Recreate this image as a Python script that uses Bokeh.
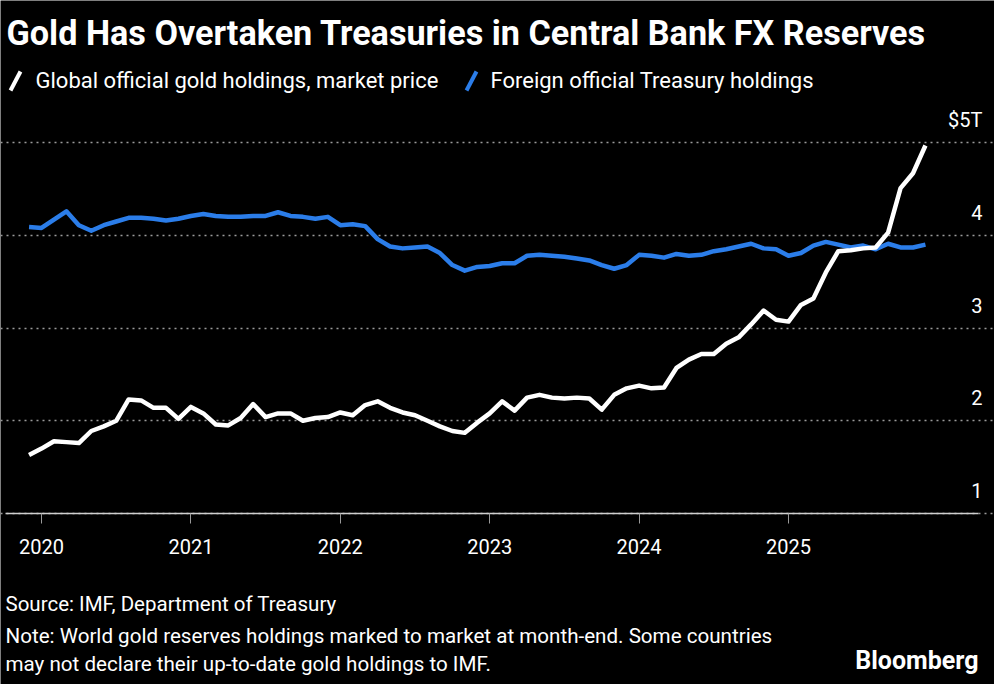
import pandas as pd
from bokeh.plotting import figure
from bokeh.models import (ColumnDataSource, Label, Arrow, FixedTicker, Range1d,
                          NumeralTickFormatter, LinearAxis)
from bokeh.core.properties import value
from bokeh.embed import file_html
from bokeh.resources import INLINE

# ---------------- data ----------------
months = pd.date_range("2019-12-01", "2025-12-01", freq="MS")

gold = [1.63, 1.70, 1.78, 1.77, 1.76, 1.89, 1.94, 2.00, 2.23, 2.22, 2.14, 2.14,
        2.02, 2.15, 2.08, 1.96, 1.95, 2.03, 2.18, 2.04, 2.08, 2.08, 2.00, 2.03,
        2.04, 2.09, 2.06, 2.17, 2.21, 2.14, 2.09, 2.06, 2.00, 1.94, 1.89, 1.87,
        1.98, 2.08, 2.21, 2.11, 2.25, 2.28, 2.25, 2.24, 2.25, 2.24, 2.12, 2.28,
        2.35, 2.38, 2.35, 2.36, 2.57, 2.66, 2.72, 2.72, 2.83, 2.90, 3.04, 3.19,
        3.09, 3.07, 3.25, 3.32, 3.60, 3.83, 3.84, 3.86, 3.87, 4.03, 4.51, 4.67,
        4.97]

treasury = [4.09, 4.08, 4.17, 4.26, 4.11, 4.05, 4.11, 4.15, 4.19, 4.19, 4.18, 4.16,
            4.18, 4.21, 4.23, 4.21, 4.20, 4.20, 4.21, 4.21, 4.25, 4.21, 4.20, 4.18,
            4.20, 4.11, 4.12, 4.10, 3.96, 3.88, 3.86, 3.87, 3.88, 3.81, 3.68, 3.62,
            3.66, 3.67, 3.70, 3.70, 3.78, 3.79, 3.78, 3.77, 3.75, 3.73, 3.68, 3.64,
            3.68, 3.79, 3.78, 3.76, 3.80, 3.78, 3.79, 3.83, 3.85, 3.88, 3.91, 3.86,
            3.85, 3.78, 3.81, 3.89, 3.93, 3.90, 3.87, 3.89, 3.85, 3.91, 3.87, 3.87,
            3.90]

x_ticks = [2020, 2021, 2022, 2023, 2024, 2025]
y_ticks = [1, 2, 3, 4, 5]
y_tick_labels = ["1", "2", "3", "4", "$5T"]

series_names = ["Global official gold holdings, market price",
                "Foreign official Treasury holdings"]

title_text = "Gold Has Overtaken Treasuries in Central Bank FX Reserves"
source_text = "Source: IMF, Department of Treasury"
note_lines = ["Note: World gold reserves holdings marked to market at month-end. Some countries",
              "may not declare their up-to-date gold holdings to IMF."]
brand = "Bloomberg"

# ---------------- layout helpers (pixel <-> data) ----------------
W, H = 994, 684
PX_PER_YEAR = 149.4
X_AT_0 = 2020 - 41 / PX_PER_YEAR      # canvas x=41 is the 2020 tick
PX_PER_UNIT = 92.7
AXIS_PY = 513                          # canvas y of value 1 (axis line)


def xd(px):
    return X_AT_0 + px / PX_PER_YEAR


def yd(py):
    return 1 + (AXIS_PY - py) / PX_PER_UNIT


FONT = "Roboto"
WHITE = "#ffffff"
BLUE = "#2b7de9"

xs = [m.year + (m.month - 1) / 12 for m in months]
src = ColumnDataSource(dict(x=xs, gold=gold, treasury=treasury))

p = figure(width=W, height=H, output_backend="svg", toolbar_location=None, title=None,
           x_range=Range1d(xd(0), xd(W)), y_range=Range1d(yd(H), yd(0)),
           x_axis_location=None, y_axis_location=None,
           background_fill_color="black", border_fill_color="black",
           outline_line_color=None,
           min_border_left=0, min_border_right=0, min_border_top=0, min_border_bottom=0)

p.ygrid.ticker = FixedTicker(ticks=y_ticks)
p.ygrid.grid_line_color = "#9a9a9a"
p.ygrid.grid_line_dash = "2 4"
p.ygrid.grid_line_width = 1.5
p.xgrid.visible = False

ax = LinearAxis(fixed_location=y_ticks[0], bounds=(xd(5), xd(978)))
ax.ticker = FixedTicker(ticks=x_ticks)
ax.formatter = NumeralTickFormatter(format="0")
ax.axis_line_color = "#cfcfcf"
ax.axis_line_width = 1.5
ax.major_tick_line_color = "#9a9a9a"
ax.major_tick_out = 10
ax.major_tick_in = 0
ax.minor_tick_line_color = None
ax.major_label_text_color = WHITE
ax.major_label_text_font = FONT
ax.major_label_text_font_size = "20px"
ax.major_label_standoff = 15
p.add_layout(ax, "below")

p.line("x", "treasury", source=src, line_color=BLUE, line_width=4.5, line_join="round")
p.line("x", "gold", source=src, line_color=WHITE, line_width=4.5, line_join="round")

# y tick labels sitting above the gridlines on the right
p.text(x=[xd(982)] * len(y_ticks), y=y_ticks, text=y_tick_labels,
       text_align="right", text_baseline="middle", y_offset=-23,
       text_color=WHITE, text_font=value(FONT), text_font_size="20px")


# ---------------- texts (screen units, frame == canvas, origin bottom-left) ----------------
def lab(text, cx, cy, size, bold=False, align="left", color=WHITE):
    p.add_layout(Label(x=cx, y=H - cy, x_units="screen", y_units="screen",
                       text=text, text_font=FONT, text_font_size=size,
                       text_font_style="bold" if bold else "normal",
                       text_color=color, text_align=align, text_baseline="middle"))


def slash(cx, color):
    p.add_layout(Arrow(x_start=cx, y_start=H - 90, x_end=cx + 10, y_end=H - 71,
                       start_units="screen", end_units="screen", end=None,
                       line_color=color, line_width=4))


lab(title_text, 6, 32, "34.2px", bold=True)

slash(10, WHITE)
lab(series_names[0], 35, 80, "22px")
slash(466, BLUE)
lab(series_names[1], 490, 80, "22px")

lab(source_text, 5, 603, "20.5px")
lab(note_lines[0], 5, 635, "20.6px")
lab(note_lines[1], 5, 663, "20.6px")
lab(brand, 978, 660, "25px", bold=True, align="right")

open("out.html", "w").write(file_html(p, INLINE))
